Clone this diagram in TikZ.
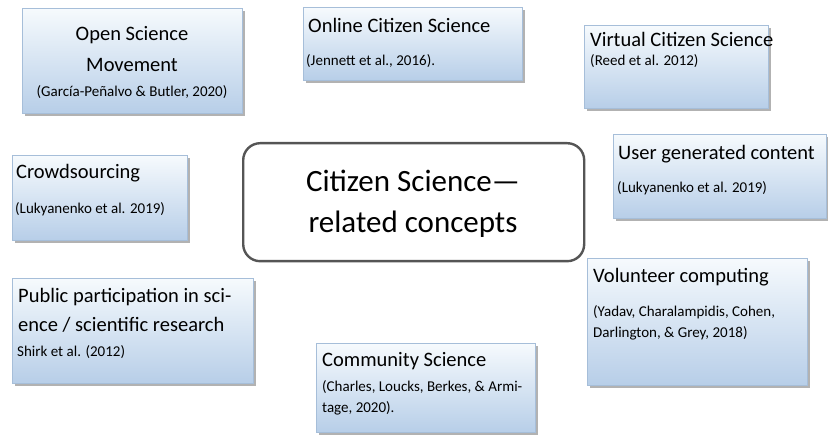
\documentclass[tikz,border=0pt]{standalone}
\usepackage{fontspec}
\setmainfont{Carlito}
\usetikzlibrary{shadows}

\definecolor{boxtop}{HTML}{F6FAFD}
\definecolor{boxbottom}{HTML}{B7CEE8}
\definecolor{boxline}{HTML}{A6BED9}
\definecolor{hubline}{HTML}{555555}

\tikzset{
	concept/.style={draw=boxline, line width=1pt, top color=boxtop, bottom color=boxbottom,
		anchor=north west, inner sep=0pt,
		drop shadow={shadow xshift=2.5pt, shadow yshift=-3pt, fill=black!55, opacity=.55}},
	head/.style={anchor=base west, inner sep=0pt, align=left, font=\fontsize{20.5}{29}\selectfont},
	cite/.style={anchor=base west, inner sep=0pt, align=left, font=\fontsize{15}{21}\selectfont},
	hub/.style={draw=hubline, line width=2.4pt, rounded corners=17pt, fill=white,
		anchor=north west, inner sep=0pt},
}

\begin{document}
\begin{tikzpicture}[x=1pt, y=-1pt]
	\useasboundingbox (0,0) rectangle (828,438);

	% boxes round the centre
	\node[concept, minimum width=220pt, minimum height=105pt] (osm) at (22,8) {};
	\node[concept, minimum width=219pt, minimum height=73pt] (ocs) at (303,7) {};
	\node[concept, minimum width=184pt, minimum height=83pt] (vcs) at (584,25) {};
	\node[concept, minimum width=213pt, minimum height=84pt] (ugc) at (613,134) {};
	\node[concept, minimum width=175pt, minimum height=85pt] (crowd) at (12,155) {};
	\node[concept, minimum width=241pt, minimum height=105pt] (ppsr) at (12,278) {};
	\node[concept, minimum width=219pt, minimum height=89pt] (comm) at (316,343) {};
	\node[concept, minimum width=220pt, minimum height=127pt] (vol) at (587,258) {};

	% centre (multi-line texts sit on their last baseline)
	\node[hub, minimum width=341pt, minimum height=118pt] (hub) at (242,142) {};
	\node[anchor=base, inner sep=0pt, align=center, font=\fontsize{31}{41}\selectfont] (hub-t) at (413,233)
		{Citizen Science---\\related concepts};

	% texts
	\node[head, anchor=base, align=center, font=\fontsize{20.5}{31}\selectfont] (osm-t) at (132,72) {Open Science\\Movement};
	\node[cite, anchor=base] (osm-c) at (132,97) {(García-Peñalvo \& Butler, 2020)};

	\node[head] (ocs-t) at (308,33) {Online Citizen Science};
	\node[cite] (ocs-c) at (306,66) {(Jennett et al., 2016).};

	\node[head] (vcs-t) at (590,47) {Virtual Citizen Science};
	\node[cite] (vcs-c) at (590,66) {(Reed et al. 2012)};

	\node[head] (ugc-t) at (618,160) {User generated content};
	\node[cite] (ugc-c) at (617,193) {(Lukyanenko et al. 2019)};

	\node[head] (crowd-t) at (16,179) {Crowdsourcing};
	\node[cite] (crowd-c) at (15,214) {(Lukyanenko et al. 2019)};

	\node[head] (ppsr-t) at (18,332) {Public participation in sci-\\ence / scientific research};
	\node[cite] (ppsr-c) at (17,357) {Shirk et al. (2012)};

	\node[head] (comm-t) at (322,367) {Community Science};
	\node[cite] (comm-c) at (322,413) {(Charles, Loucks, Berkes, \& Armi-\\tage, 2020).};

	\node[head] (vol-t) at (593,283) {Volunteer computing};
	\node[cite] (vol-c) at (593,338) {(Yadav, Charalampidis, Cohen,\\Darlington, \& Grey, 2018)};
\end{tikzpicture}
\end{document}
